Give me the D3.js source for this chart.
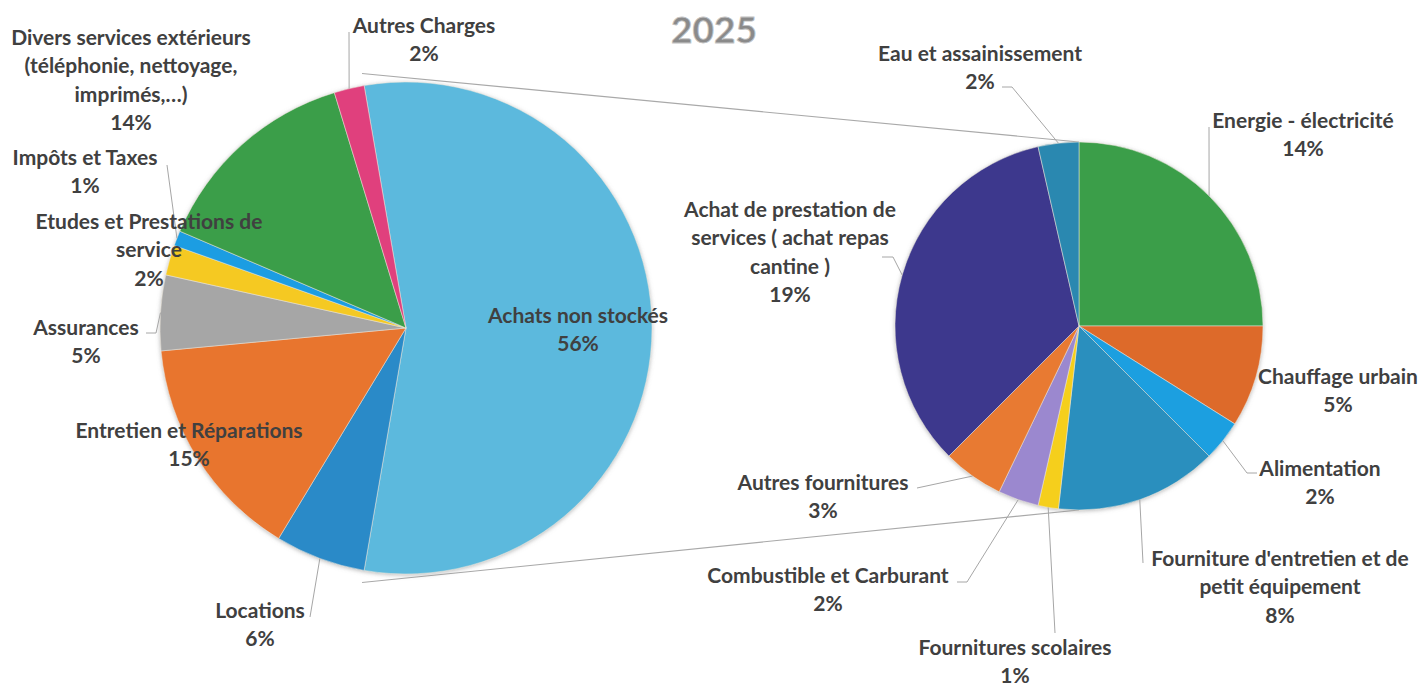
<!DOCTYPE html>
<html lang="fr">
<head>
<meta charset="utf-8">
<script src="https://cdn.jsdelivr.net/npm/d3@7"></script>
<style>
  html, body { margin: 0; padding: 0; background: #ffffff; }
  svg { display: block; }
  .lbl { font-family: Lato, "Open Sans", sans-serif; font-weight: 700; font-size: 21px; fill: #404040; }
  .title { font-family: Lato, "Open Sans", sans-serif; font-weight: 700; font-size: 37px; fill: #8a8a8a; stroke: #c4c4c4; stroke-width: 0.8px; }
</style>
</head>
<body>
<svg id="chart" width="1424" height="686"></svg>
<script>
// ---- Data: main pie (charges 2025) ----
const leftCategories = [
  "Achats non stockés", "Locations", "Entretien et Réparations", "Assurances",
  "Etudes et Prestations de service", "Impôts et Taxes",
  "Divers services extérieurs (téléphonie, nettoyage, imprimés,…)", "Autres Charges"
];
const leftValues = [56, 6, 15, 5, 2, 1, 14, 2];
const leftColors = ["#5cb9dd", "#2b8ac8", "#e8742f", "#a6a6a6", "#f5c922", "#1b9de2", "#3b9e49", "#e03f7d"];
const leftLabelLines = [
  ["Achats non stockés"], ["Locations"], ["Entretien et Réparations"], ["Assurances"],
  ["Etudes et Prestations de", "service"], ["Impôts et Taxes"],
  ["Divers services extérieurs", "(téléphonie, nettoyage,", "imprimés,…)"], ["Autres Charges"]
];

// ---- Data: detail of "Achats non stockés" ----
const rightCategories = [
  "Energie - électricité", "Chauffage urbain", "Alimentation",
  "Fourniture d'entretien et de petit équipement", "Fournitures scolaires",
  "Combustible et Carburant", "Autres fournitures",
  "Achat de prestation de services ( achat repas cantine )", "Eau et assainissement"
];
const rightValues = [14, 5, 2, 8, 1, 2, 3, 19, 2];
const rightColors = ["#3b9e49", "#dd6a2c", "#1f9fe0", "#2a8fbe", "#f5cf1f", "#9b88cf", "#e87a30", "#3d398d", "#2c88b0"];
const rightLabelLines = [
  ["Energie - électricité"], ["Chauffage urbain"], ["Alimentation"],
  ["Fourniture d'entretien et de", "petit équipement"], ["Fournitures scolaires"],
  ["Combustible et Carburant"], ["Autres fournitures"],
  ["Achat de prestation de", "services ( achat repas", "cantine )"], ["Eau et assainissement"]
];

const titleText = "2025";

// ---- Layout ----
const leftPie = { cx: 406, cy: 328, r: 246 };
const rightPie = { cx: 1079, cy: 326, r: 184 };
const lineH = 28.5;

// label placement: centre x, centre y of the first line; leader: [anchorX, anchorY, elbowDx] or null
const leftLabelLayout = [
  { x: 578, y: 315, leader: null },
  { x: 260, y: 610, leader: [310, 617, 0] },
  { x: 189, y: 430, leader: null },
  { x: 86,  y: 327, leader: [146, 333, 10] },
  { x: 149, y: 221, leader: null },
  { x: 85,  y: 157, leader: [167, 165, 0] },
  { x: 131, y: 37,  leader: null },
  { x: 424, y: 25,  leader: [349, 32, 0] }
];
const rightLabelLayout = [
  { x: 1303, y: 120, leader: [1209, 127, 0] },
  { x: 1338, y: 376, leader: null },
  { x: 1320, y: 468, leader: [1257, 473, -10] },
  { x: 1280, y: 558, leader: [1143, 563, 0] },
  { x: 1015, y: 647, leader: [1055, 633, 0] },
  { x: 828,  y: 575, leader: [957, 582, 10] },
  { x: 823,  y: 482, leader: [917, 488, 0] },
  { x: 790,  y: 209, leader: [882, 257, 11] },
  { x: 980,  y: 53,  leader: [1002, 87, 10] }
];

const svg = d3.select("#chart");

// soft outer shadow of both pies
const defs = svg.append("defs");
const f = defs.append("filter").attr("id", "pieShadow")
  .attr("x", "-10%").attr("y", "-10%").attr("width", "120%").attr("height", "120%");
f.append("feDropShadow").attr("dx", 0).attr("dy", 1).attr("stdDeviation", 2.2)
  .attr("flood-color", "#808080").attr("flood-opacity", 0.55);

// ---- pie layouts ----
const leftTotal = d3.sum(leftValues);
const leftStart = Math.PI / 2 - (leftValues[0] / leftTotal) * Math.PI; // first slice centred on the right
const leftArcs = d3.pie().sort(null).value(d => d)
  .startAngle(leftStart).endAngle(leftStart + 2 * Math.PI)(leftValues);
const rightArcs = d3.pie().sort(null).value(d => d)
  .startAngle(0).endAngle(2 * Math.PI)(rightValues);

const polar = (p, a, rr) => [p.cx + rr * Math.sin(a), p.cy - rr * Math.cos(a)];

// ---- series lines joining the split slice to the secondary pie ----
const split = leftArcs[0];
const seriesLines = [
  [polar(leftPie, split.startAngle, leftPie.r * 1.05), polar(rightPie, 0, rightPie.r)],
  [polar(leftPie, split.endAngle, leftPie.r * 1.05), polar(rightPie, Math.PI, rightPie.r)]
];
svg.append("g").selectAll("line").data(seriesLines).join("line")
  .attr("x1", d => d[0][0]).attr("y1", d => d[0][1])
  .attr("x2", d => d[1][0]).attr("y2", d => d[1][1])
  .attr("stroke", "#a9a9a9").attr("stroke-width", 1.1);

// ---- draw pies ----
function drawPie(p, arcs, colors) {
  const arc = d3.arc().innerRadius(0).outerRadius(p.r);
  const g = svg.append("g").attr("transform", `translate(${p.cx},${p.cy})`)
    .attr("filter", "url(#pieShadow)");
  g.selectAll("path").data(arcs).join("path")
    .attr("d", arc)
    .attr("fill", (d, i) => colors[i])
    .attr("stroke", "#efe9dc").attr("stroke-width", 0.5);
}
drawPie(leftPie, leftArcs, leftColors);
drawPie(rightPie, rightArcs, rightColors);

// ---- leader lines + labels ----
function drawLabels(p, arcs, values, lines, layout) {
  const lg = svg.append("g");
  arcs.forEach((d, i) => {
    const L = layout[i];
    if (L.leader) {
      const mid = (d.startAngle + d.endAngle) / 2;
      const end = polar(p, mid, p.r);
      const [ax, ay, ex] = L.leader;
      const pts = [[ax, ay]];
      if (ex) pts.push([ax + ex, ay]);
      pts.push(end);
      lg.append("path")
        .attr("d", d3.line()(pts))
        .attr("fill", "none").attr("stroke", "#a6a6a6").attr("stroke-width", 1);
    }
  });
  arcs.forEach((d, i) => {
    const L = layout[i];
    const all = lines[i].concat([values[i] + "%"]);
    const t = svg.append("text").attr("class", "lbl").attr("text-anchor", "middle");
    all.forEach((s, k) => {
      t.append("tspan").attr("x", L.x).attr("y", L.y + k * lineH).attr("dy", "0.36em").text(s);
    });
  });
}
drawLabels(leftPie, leftArcs, leftValues, leftLabelLines, leftLabelLayout);
drawLabels(rightPie, rightArcs, rightValues, rightLabelLines, rightLabelLayout);

// ---- title ----
svg.append("text").attr("class", "title")
  .attr("x", 714).attr("y", 30).attr("dy", "0.36em")
  .attr("text-anchor", "middle").text(titleText);
</script>
</body>
</html>
